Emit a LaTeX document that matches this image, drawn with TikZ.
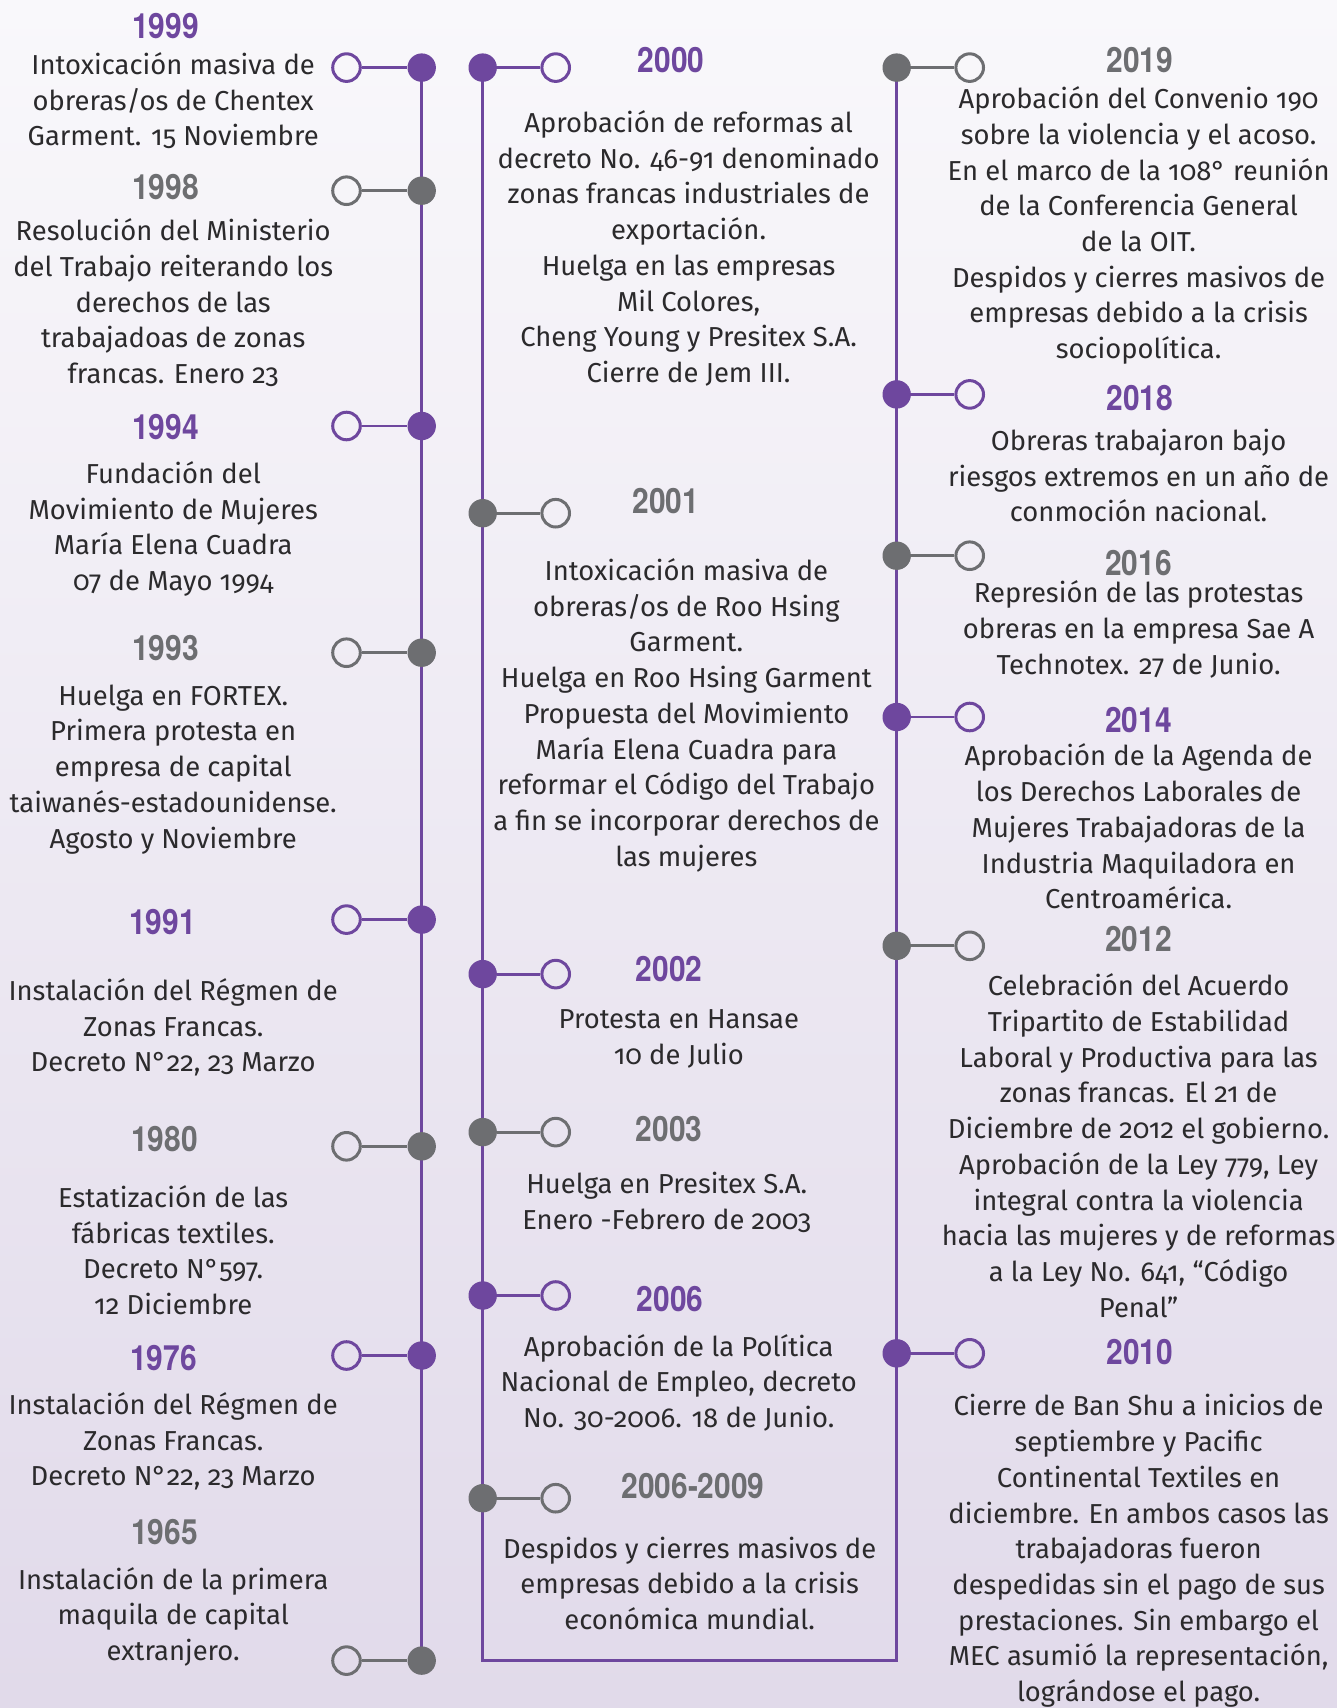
\documentclass[tikz,border=0pt]{standalone}
\usepackage{fontspec}
\setmainfont{Fira Sans}[Numbers=OldStyle]
\newfontfamily\yearfamily{TeX Gyre Heros}[FakeStretch=0.86]
\usetikzlibrary{backgrounds}

\definecolor{violeta}{HTML}{6E479E}
\definecolor{gris}{HTML}{6D6E71}
\definecolor{tinta}{HTML}{2B2A2C}
\definecolor{fondoarriba}{HTML}{F9F8FB}
\definecolor{fondoabajo}{HTML}{E1DAEA}

\newcommand{\cuerpo}{\fontsize{13.7}{17.85}\selectfont}
\newcommand{\anio}{\yearfamily\bfseries\fontsize{17.4}{20}\selectfont}

\tikzset{
  dotV/.style={circle, inner sep=0pt, minimum size=14.2pt, fill=violeta},
  dotG/.style={circle, inner sep=0pt, minimum size=14.2pt, fill=gris},
  ringV/.style={circle, inner sep=0pt, minimum size=13.8pt, draw=violeta, line width=1.5pt},
  ringG/.style={circle, inner sep=0pt, minimum size=13.8pt, draw=gris, line width=1.5pt},
  linkV/.style={draw=violeta, line width=1.4pt},
  linkG/.style={draw=gris, line width=1.4pt},
  yearV/.style={font=\anio, text=violeta, inner sep=0pt},
  yearG/.style={font=\anio, text=gris, inner sep=0pt},
  txt/.style={font=\cuerpo, text=tinta, align=center, inner sep=0pt},
  spine/.style={draw=violeta, line width=1.65pt, line join=miter}
}

\begin{document}
\begin{tikzpicture}[x=0.5pt, y=-0.5pt]

  \useasboundingbox (0,0) rectangle (1337,1708);

  % ---------- left column ----------

  % 1999
  \node[dotV] (d1999) at (421.7,67.6) {};
  \node[ringV] (o1999) at (346.5,67.6) {};
  \draw[linkV] (o1999) -- (d1999);
  \node[yearV] (y1999) at (165.6,26.2) {1999};
  \node[txt] (t1999) at (173.2,100.8)
    {Intoxicación masiva de\\obreras/os de Chentex\\Garment. 15 Noviembre};

  % 1998
  \node[dotG] (d1998) at (421.7,190.7) {};
  \node[ringG] (o1998) at (346.5,190.7) {};
  \draw[linkG] (o1998) -- (d1998);
  \node[yearG] (y1998) at (165.6,187.4) {1998};
  \node[txt] (t1998) at (173.2,302.9)
    {Resolución del Ministerio\\del Trabajo reiterando los\\derechos de las\\trabajadoas de zonas\\francas. Enero 23};

  % 1994
  \node[dotV] (d1994) at (421.7,426.0) {};
  \node[ringV] (o1994) at (346.5,426.0) {};
  \draw[linkV] (o1994) -- (d1994);
  \node[yearV] (y1994) at (165.6,427.1) {1994};
  \node[txt] (t1994) at (173.2,529.0)
    {Fundación del\\Movimiento de Mujeres\\María Elena Cuadra\\07 de Mayo 1994};

  % 1993
  \node[dotG] (d1993) at (421.7,652.7) {};
  \node[ringG] (o1993) at (346.5,652.7) {};
  \draw[linkG] (o1993) -- (d1993);
  \node[yearG] (y1993) at (165.6,648.3) {1993};
  \node[txt] (t1993) at (173.2,769.3)
    {Huelga en FORTEX.\\Primera protesta en\\empresa de capital\\taiwanés-estadounidense.\\Agosto y Noviembre};

  % 1991
  \node[dotV] (d1991) at (421.7,919.6) {};
  \node[ringV] (o1991) at (346.5,919.6) {};
  \draw[linkV] (o1991) -- (d1991);
  \node[yearV] (y1991) at (162.4,921.8) {1991};
  \node[txt] (t1991) at (173.2,1027.5)
    {Instalación del Régmen de\\Zonas Francas.\\Decreto N°22, 23 Marzo};

  % 1980
  \node[dotG] (d1980) at (421.7,1146.3) {};
  \node[ringG] (o1980) at (346.5,1146.3) {};
  \draw[linkG] (o1980) -- (d1980);
  \node[yearG] (y1980) at (164.5,1138.6) {1980};
  \node[txt] (t1980) at (173.2,1250.3)
    {Estatización de las\\fábricas textiles.\\Decreto N°597.\\12 Diciembre};

  % 1976
  \node[dotV] (d1976) at (421.7,1355.5) {};
  \node[ringV] (o1976) at (346.5,1355.5) {};
  \draw[linkV] (o1976) -- (d1976);
  \node[yearV] (y1976) at (163.4,1357.6) {1976};
  \node[txt] (t1976) at (173.2,1441.5)
    {Instalación del Régmen de\\Zonas Francas.\\Decreto N°22, 23 Marzo};

  % 1965
  \node[dotG] (d1965) at (421.7,1660.6) {};
  \node[ringG] (o1965) at (346.5,1660.6) {};
  \draw[linkG] (o1965) -- (d1965);
  \node[yearG] (y1965) at (164.5,1532.0) {1965};
  \node[txt] (t1965) at (173.2,1616.9)
    {Instalación de la primera\\maquila de capital\\extranjero.};

  % ---------- middle column ----------

  % 2000
  \node[dotV] (d2000) at (482.7,67.6) {};
  \node[ringV] (o2000) at (555.7,67.6) {};
  \draw[linkV] (d2000) -- (o2000);
  \node[yearV] (y2000) at (671.2,59.9) {2000};
  \node[txt] (t2000) at (688.6,248.4)
    {Aprobación de reformas al\\decreto No. 46-91 denominado\\zonas francas industriales de\\exportación.\\Huelga en las empresas\\Mil Colores,\\Cheng Young y Presitex S.A.\\Cierre de Jem III.};

  % 2001
  \node[dotG] (d2001) at (482.7,513.2) {};
  \node[ringG] (o2001) at (555.7,513.2) {};
  \draw[linkG] (d2001) -- (o2001);
  \node[yearG] (y2001) at (665.7,501.2) {2001};
  \node[txt] (t2001) at (686.4,715.3)
    {Intoxicación masiva de\\obreras/os de Roo Hsing\\Garment.\\Huelga en Roo Hsing Garment\\Propuesta del Movimiento\\María Elena Cuadra para\\reformar el Código del Trabajo\\a fin se incorporar derechos de\\las mujeres};

  % 2002
  \node[dotV] (d2002) at (482.7,974.1) {};
  \node[ringV] (o2002) at (555.7,974.1) {};
  \draw[linkV] (d2002) -- (o2002);
  \node[yearV] (y2002) at (669.0,968.7) {2002};
  \node[txt] (t2002) at (678.8,1038.9)
    {Protesta en Hansae\\10 de Julio};

  % 2003
  \node[dotG] (d2003) at (482.7,1132.1) {};
  \node[ringG] (o2003) at (555.7,1132.1) {};
  \draw[linkG] (d2003) -- (o2003);
  \node[yearG] (y2003) at (669.0,1128.8) {2003};
  \node[txt] (t2003) at (666.8,1202.4)
    {Huelga en Presitex S.A.\\Enero -Febrero de 2003};

  % 2006
  \node[dotV] (d2006) at (482.7,1295.5) {};
  \node[ringV] (o2006) at (555.7,1295.5) {};
  \draw[linkV] (d2006) -- (o2006);
  \node[yearV] (y2006) at (670.1,1298.8) {2006};
  \node[txt] (t2006) at (678.8,1382.7)
    {Aprobación de la Política\\Nacional de Empleo, decreto\\No. 30-2006. 18 de Junio.};

  % 2006-2009
  \node[dotG] (d2009) at (482.7,1498.2) {};
  \node[ringG] (o2009) at (555.7,1498.2) {};
  \draw[linkG] (d2009) -- (o2009);
  \node[yearG] (y2009) at (693.0,1486.2) {2006-2009};
  \node[txt] (t2009) at (689.7,1583.2)
    {Despidos y cierres masivos de\\empresas debido a la crisis\\económica mundial.};

  % ---------- right column ----------

  % 2019
  \node[dotG] (d2019) at (896.7,67.6) {};
  \node[ringG] (o2019) at (969.7,67.6) {};
  \draw[linkG] (d2019) -- (o2019);
  \node[yearG] (y2019) at (1139.7,59.9) {2019};
  \node[txt] (t2019) at (1138.6,225.5)
    {Aprobación del Convenio 190\\sobre la violencia y el acoso.\\En el marco de la 108° reunión\\de la Conferencia General\\de la OIT.\\Despidos y cierres masivos de\\empresas debido a la crisis\\sociopolítica.};

  % 2018
  \node[dotV] (d2018) at (896.7,394.4) {};
  \node[ringV] (o2018) at (969.7,394.4) {};
  \draw[linkV] (d2018) -- (o2018);
  \node[yearV] (y2018) at (1139.7,397.7) {2018};
  \node[txt] (t2018) at (1138.6,475.6)
    {Obreras trabajaron bajo\\riesgos extremos en un año de\\conmoción nacional.};

  % 2016
  \node[dotG] (d2016) at (896.7,555.7) {};
  \node[ringG] (o2016) at (969.7,555.7) {};
  \draw[linkG] (d2016) -- (o2016);
  \node[yearG] (y2016) at (1138.6,563.3) {2016};
  \node[txt] (t2016) at (1138.6,629.2)
    {Represión de las protestas\\obreras en la empresa Sae A\\Technotex. 27 de Junio.};

  % 2014
  \node[dotV] (d2014) at (896.7,717.0) {};
  \node[ringV] (o2014) at (969.7,717.0) {};
  \draw[linkV] (d2014) -- (o2014);
  \node[yearV] (y2014) at (1138.6,720.2) {2014};
  \node[txt] (t2014) at (1138.6,826.5)
    {Aprobación de la Agenda de\\los Derechos Laborales de\\Mujeres Trabajadoras de la\\Industria Maquiladora en\\Centroamérica.};

  % 2012
  \node[dotG] (d2012) at (896.7,945.8) {};
  \node[ringG] (o2012) at (969.7,945.8) {};
  \draw[linkG] (d2012) -- (o2012);
  \node[yearG] (y2012) at (1138.6,939.2) {2012};
  \node[txt] (t2012) at (1138.6,1145.7)
    {Celebración del Acuerdo\\Tripartito de Estabilidad\\Laboral y Productiva para las\\zonas francas. El 21 de\\Diciembre de 2012 el gobierno.\\Aprobación de la Ley 779, Ley\\integral contra la violencia\\hacia las mujeres y de reformas\\a la Ley No. 641, “Código\\Penal”};

  % 2010
  \node[dotV] (d2010) at (896.7,1353.3) {};
  \node[ringV] (o2010) at (969.7,1353.3) {};
  \draw[linkV] (d2010) -- (o2010);
  \node[yearV] (y2010) at (1139.7,1352.2) {2010};
  \node[txt] (t2010) at (1138.6,1551.0)
    {Cierre de Ban Shu a inicios de\\septiembre y Pacific\\Continental Textiles en\\diciembre. En ambos casos las\\trabajadoras fueron\\despedidas sin el pago de sus\\prestaciones. Sin embargo el\\MEC asumió la representación,\\lográndose el pago.};

  % ---------- spines and background ----------
  \coordinate (caja1) at (482.7,1660.6);
  \coordinate (caja2) at (896.7,1660.6);
  \begin{scope}[on background layer]
    \shade[top color=fondoarriba, bottom color=fondoabajo]
      (0,0) rectangle (1337,1708);
    \draw[spine] (d1999.center) -- (d1965.center);
    \draw[spine] (d2000.center) -- (caja1) -- (caja2) -- (d2019.center);
  \end{scope}

\end{tikzpicture}
\end{document}
